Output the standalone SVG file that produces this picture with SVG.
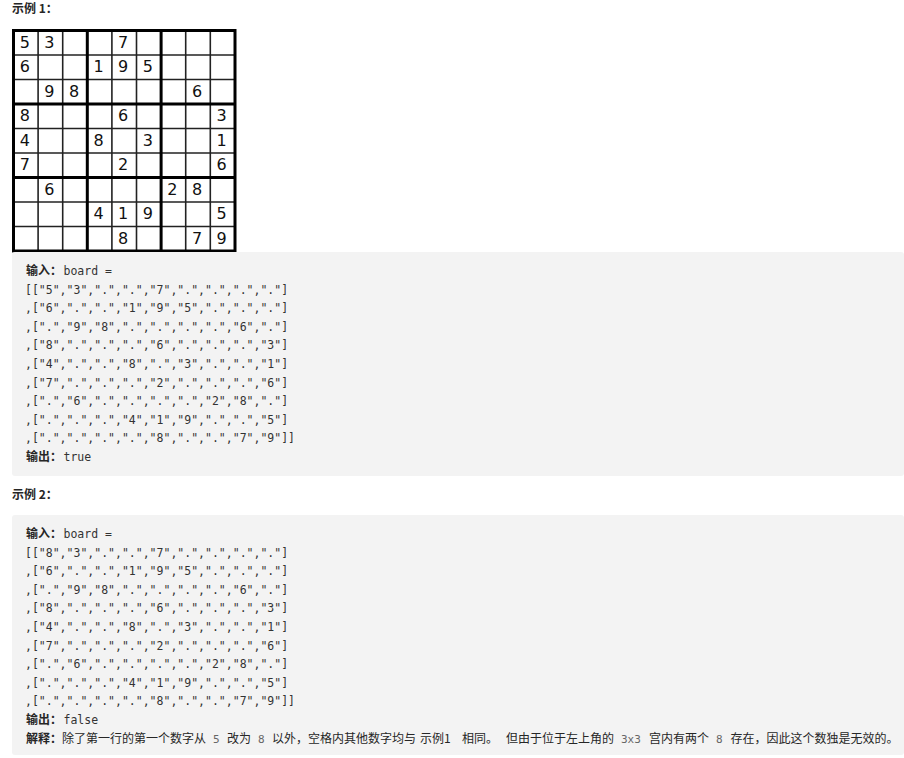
<svg xmlns="http://www.w3.org/2000/svg" width="904" height="758" viewBox="0 0 904 758">
<style>
.h{font-family:"Noto Sans CJK SC","Liberation Sans",sans-serif;font-size:12px;font-weight:bold;fill:#262626}
.lb{font-family:"Noto Sans CJK SC","Liberation Sans",sans-serif;font-size:12px;font-weight:bold;fill:#262626}
.cj{font-family:"Noto Sans CJK SC","Liberation Sans",sans-serif;font-size:12px;fill:#262626}
.mo{font-family:"DejaVu Sans Mono","Liberation Mono",monospace;font-size:11.5px;fill:#333}
.ic{font-family:"DejaVu Sans Mono","Liberation Mono",monospace;font-size:11px;fill:#666}
.box{fill:#f3f3f3}
.d{font-family:"DejaVu Sans","Liberation Sans",sans-serif;font-size:16px;fill:#111;text-anchor:middle}
.thin{stroke:#222;stroke-width:1.6}
.thick{stroke:#000;stroke-width:3}
</style>
<rect width="904" height="758" fill="#fff"/>

<g id="heading1"><text class="h" x="12" y="13">示例 1：</text></g>

<g id="sudoku">
<g class="thin">
<line x1="38.1" y1="30.5" x2="38.1" y2="251"/>
<line x1="62.7" y1="30.5" x2="62.7" y2="251"/>
<line x1="111.9" y1="30.5" x2="111.9" y2="251"/>
<line x1="136.5" y1="30.5" x2="136.5" y2="251"/>
<line x1="185.7" y1="30.5" x2="185.7" y2="251"/>
<line x1="210.3" y1="30.5" x2="210.3" y2="251"/>
<line x1="13.5" y1="55" x2="235" y2="55"/>
<line x1="13.5" y1="79.5" x2="235" y2="79.5"/>
<line x1="13.5" y1="128.5" x2="235" y2="128.5"/>
<line x1="13.5" y1="153" x2="235" y2="153"/>
<line x1="13.5" y1="202" x2="235" y2="202"/>
<line x1="13.5" y1="226.5" x2="235" y2="226.5"/>
</g>
<g class="thick">
<line x1="87.3" y1="30.5" x2="87.3" y2="251"/>
<line x1="161.1" y1="30.5" x2="161.1" y2="251"/>
<line x1="13.5" y1="104" x2="235" y2="104"/>
<line x1="13.5" y1="177.5" x2="235" y2="177.5"/>
<rect x="13.5" y="30.5" width="221.5" height="220.5" fill="none"/>
</g>
<g>
<text class="d" x="24.8" y="47.75">5</text>
<text class="d" x="49.4" y="47.75">3</text>
<text class="d" x="123.2" y="47.75">7</text>
<text class="d" x="24.8" y="72.25">6</text>
<text class="d" x="98.6" y="72.25">1</text>
<text class="d" x="123.2" y="72.25">9</text>
<text class="d" x="147.8" y="72.25">5</text>
<text class="d" x="49.4" y="96.75">9</text>
<text class="d" x="74" y="96.75">8</text>
<text class="d" x="197" y="96.75">6</text>
<text class="d" x="24.8" y="121.25">8</text>
<text class="d" x="123.2" y="121.25">6</text>
<text class="d" x="221.6" y="121.25">3</text>
<text class="d" x="24.8" y="145.75">4</text>
<text class="d" x="98.6" y="145.75">8</text>
<text class="d" x="147.8" y="145.75">3</text>
<text class="d" x="221.6" y="145.75">1</text>
<text class="d" x="24.8" y="170.25">7</text>
<text class="d" x="123.2" y="170.25">2</text>
<text class="d" x="221.6" y="170.25">6</text>
<text class="d" x="49.4" y="194.75">6</text>
<text class="d" x="172.4" y="194.75">2</text>
<text class="d" x="197" y="194.75">8</text>
<text class="d" x="98.6" y="219.25">4</text>
<text class="d" x="123.2" y="219.25">1</text>
<text class="d" x="147.8" y="219.25">9</text>
<text class="d" x="221.6" y="219.25">5</text>
<text class="d" x="123.2" y="243.75">8</text>
<text class="d" x="197" y="243.75">7</text>
<text class="d" x="221.6" y="243.75">9</text>
</g>
</g>

<g id="example1">
<rect class="box" x="12" y="252" width="892" height="224" rx="3"/>
<text class="lb" x="26" y="275.3">输入：</text>
<text class="mo" x="63.5" y="275">board =</text>
<text class="mo" x="25" y="293.6">[["5","3",".",".","7",".",".",".","."]</text>
<text class="mo" x="25" y="312.2">,["6",".",".","1","9","5",".",".","."]</text>
<text class="mo" x="25" y="330.8">,[".","9","8",".",".",".",".","6","."]</text>
<text class="mo" x="25" y="349.4">,["8",".",".",".","6",".",".",".","3"]</text>
<text class="mo" x="25" y="368">,["4",".",".","8",".","3",".",".","1"]</text>
<text class="mo" x="25" y="386.6">,["7",".",".",".","2",".",".",".","6"]</text>
<text class="mo" x="25" y="405.2">,[".","6",".",".",".",".","2","8","."]</text>
<text class="mo" x="25" y="423.8">,[".",".",".","4","1","9",".",".","5"]</text>
<text class="mo" x="25" y="442.4">,[".",".",".",".","8",".",".","7","9"]]</text>
<text class="lb" x="26" y="461.3">输出：</text>
<text class="mo" x="63.5" y="461">true</text>
</g>

<g id="heading2"><text class="h" x="12" y="499">示例 2：</text></g>

<g id="example2">
<rect class="box" x="12" y="515" width="892" height="240" rx="3"/>
<text class="lb" x="26" y="538.3">输入：</text>
<text class="mo" x="63.5" y="538">board =</text>
<text class="mo" x="25" y="556.6">[["8","3",".",".","7",".",".",".","."]</text>
<text class="mo" x="25" y="575.2">,["6",".",".","1","9","5",".",".","."]</text>
<text class="mo" x="25" y="593.8">,[".","9","8",".",".",".",".","6","."]</text>
<text class="mo" x="25" y="612.4">,["8",".",".",".","6",".",".",".","3"]</text>
<text class="mo" x="25" y="631">,["4",".",".","8",".","3",".",".","1"]</text>
<text class="mo" x="25" y="649.6">,["7",".",".",".","2",".",".",".","6"]</text>
<text class="mo" x="25" y="668.2">,[".","6",".",".",".",".","2","8","."]</text>
<text class="mo" x="25" y="686.8">,[".",".",".","4","1","9",".",".","5"]</text>
<text class="mo" x="25" y="705.4">,[".",".",".",".","8",".",".","7","9"]]</text>
<text class="lb" x="26" y="724.3">输出：</text>
<text class="mo" x="63.5" y="724">false</text>
<text class="lb" x="26" y="742.9">解释：</text>
<text class="cj" x="62" y="742.9">除了第一行的第一个数字从</text>
<text class="ic" x="213" y="742.6">5</text>
<text class="cj" x="227" y="742.9">改为</text>
<text class="ic" x="258" y="742.6">8</text>
<text class="cj" x="272" y="742.9">以外，空格内其他数字均与</text>
<text class="cj" x="420" y="742.9">示例1</text>
<text class="cj" x="462" y="742.9">相同。</text>
<text class="cj" x="506" y="742.9">但由于位于左上角的</text>
<text class="ic" x="621" y="742.6">3x3</text>
<text class="cj" x="649" y="742.9">宫内有两个</text>
<text class="ic" x="716" y="742.6">8</text>
<text class="cj" x="730.5" y="742.9">存在，因此这个数独是无效的。</text>
</g>
</svg>
